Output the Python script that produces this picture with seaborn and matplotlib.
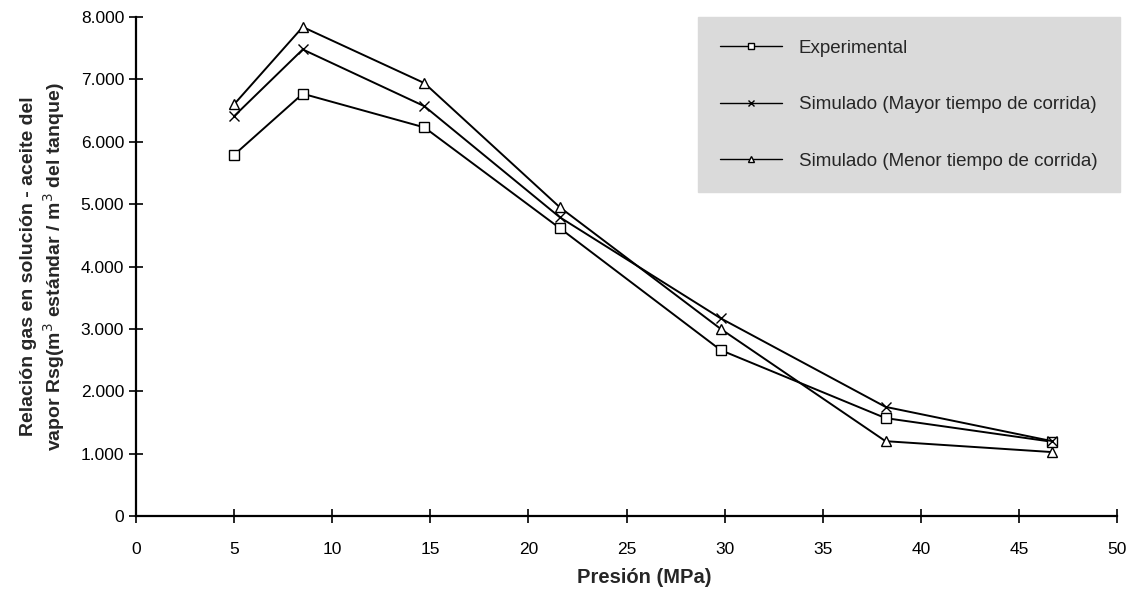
import matplotlib
matplotlib.use("Agg")
import matplotlib.pyplot as plt
import matplotlib.ticker as mticker
import seaborn as sns
import pandas as pd

presion = [5.0, 8.5, 14.7, 21.6, 29.8, 38.2, 46.7]
experimental = [5790, 6770, 6230, 4615, 2660, 1570, 1190]
sim_mayor = [6410, 7480, 6570, 4790, 3170, 1750, 1200]
sim_menor = [6600, 7840, 6940, 4950, 3000, 1200, 1025]

labels = ["Experimental", "Simulado (Mayor tiempo de corrida)", "Simulado (Menor tiempo de corrida)"]
series = [experimental, sim_mayor, sim_menor]
markers = ["s", "x", "^"]

sns.set_theme(style="white")
plt.rcParams["font.family"] = ["Liberation Sans", "DejaVu Sans"]

fig = plt.figure(figsize=(11.36, 5.93), dpi=100)
ax = fig.add_axes([0.1197, 0.1298, 0.8636, 0.8415])

for lab, vals, mk in zip(labels, series, markers):
    df = pd.DataFrame({"x": presion, "y": vals})
    sns.lineplot(data=df, x="x", y="y", ax=ax, color="black", linewidth=1.4,
                 marker=mk, markersize=7,
                 markerfacecolor="white", markeredgecolor="black",
                 markeredgewidth=1.0, label=lab)

ax.set_xlim(0, 50)
ax.set_ylim(0, 8000)
ax.set_xticks(range(0, 51, 5))
ax.set_yticks(range(0, 8001, 1000))
ax.yaxis.set_major_formatter(mticker.FuncFormatter(lambda v, p: f"{int(v):,}".replace(",", ".")))
ax.tick_params(axis="both", which="major", direction="inout", length=10, width=1.2,
               labelsize=12.5, colors="black", bottom=True, left=True)
ax.tick_params(axis="x", pad=14)
for s in ["top", "right"]:
    ax.spines[s].set_visible(False)
for s in ["left", "bottom"]:
    ax.spines[s].set_color("black")
    ax.spines[s].set_linewidth(1.6)

ax.set_xlabel("Presión (MPa)", fontsize=14.5, fontweight="bold")
ax.xaxis.set_label_coords(0.518, -0.105)
ax.set_ylabel("Relación gas en solución - aceite del\nvapor Rsg(m$^3$ estándar / m$^3$ del tanque)",
              fontsize=14, fontweight="bold", labelpad=10)

leg = ax.legend(loc="upper right", bbox_to_anchor=(1.003, 1.0), frameon=True, fancybox=False,
                fontsize=13.5, labelspacing=2.1, handlelength=3.3, handletextpad=0.9,
                borderpad=1.2, borderaxespad=0.0)
leg.get_frame().set_facecolor("#dadada")
leg.get_frame().set_edgecolor("#dadada")
leg.get_frame().set_alpha(1.0)
for h in leg.legend_handles:
    h.set_linewidth(1.0)
    h.set_markersize(5)

fig.savefig("out.png", dpi=100, facecolor="white")
